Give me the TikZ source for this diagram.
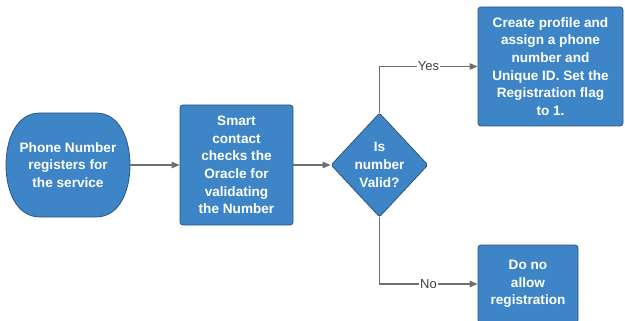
\documentclass[tikz,border=0pt]{standalone}
\usepackage{fontspec}
\setmainfont{Liberation Sans}
\usetikzlibrary{shapes.geometric,shapes.misc,arrows.meta}
\definecolor{boxfill}{RGB}{61,133,198}
\definecolor{boxdraw}{RGB}{45,85,125}
\definecolor{linegray}{RGB}{110,110,110}
\begin{document}
\begin{tikzpicture}[x=1pt,y=-1pt,
  box/.style={draw=boxdraw, fill=boxfill, line width=0.8pt, rounded corners=3pt, text=white,
    font=\fontsize{13.6}{17.7}\selectfont\bfseries, align=center, inner sep=0pt},
  termshape/.style={draw=boxdraw, fill=boxfill, line width=0.8pt},
  boxtext/.style={text=white, font=\fontsize{13.6}{17.7}\selectfont\bfseries, align=center, inner sep=0pt},
  conn/.style={draw=linegray, line width=1.1pt, -{Triangle[length=8pt,width=6.5pt]}},
  lbl/.style={fill=white, text=black!75, font=\fontsize{13}{15}\selectfont, inner sep=1pt}]
\useasboundingbox (0,0) rectangle (625,321);
\clip (0,0) rectangle (625,321);
% terminator shape
\path[termshape] (40,113) -- (96,113) .. controls (120,113) and (130,140) .. (130,165)
  .. controls (130,190) and (120,217) .. (96,217) -- (40,217)
  .. controls (16,217) and (6,190) .. (6,165) .. controls (6,140) and (16,113) .. (40,113) -- cycle;
\node[boxtext, minimum width=124pt, minimum height=104pt] (start) at (68,165)
  {Phone Number\\registers for\\the service};
\node[box, minimum width=113pt, minimum height=120pt] (check) at (236.5,165)
  {Smart\\contact\\checks the\\Oracle for\\validating\\the Number};
\node[box, diamond, minimum width=97pt, minimum height=104pt, rounded corners=2pt] (dia) at (379.5,165) {};
\node[boxtext] (diatext) at (dia.center) {Is\\number\\Valid?};
\node[box, minimum width=145pt, minimum height=119pt] (create) at (550.5,66.5)
  {Create profile and\\assign a phone\\number and\\Unique ID. Set the\\Registration flag\\to 1.};
\node[box, minimum width=100pt, minimum height=78pt] (deny) at (528,284)
  {Do no\\allow\\registration};
\draw[conn] (start) -- (check);
\draw[conn] (check) -- (dia);
\draw[conn] (dia.north) |- node[lbl, pos=0.75] (yes) {Yes} (create.west);
\draw[conn] (dia.south) |- node[lbl, pos=0.75] (no) {No} (deny.west);
\end{tikzpicture}
\end{document}
